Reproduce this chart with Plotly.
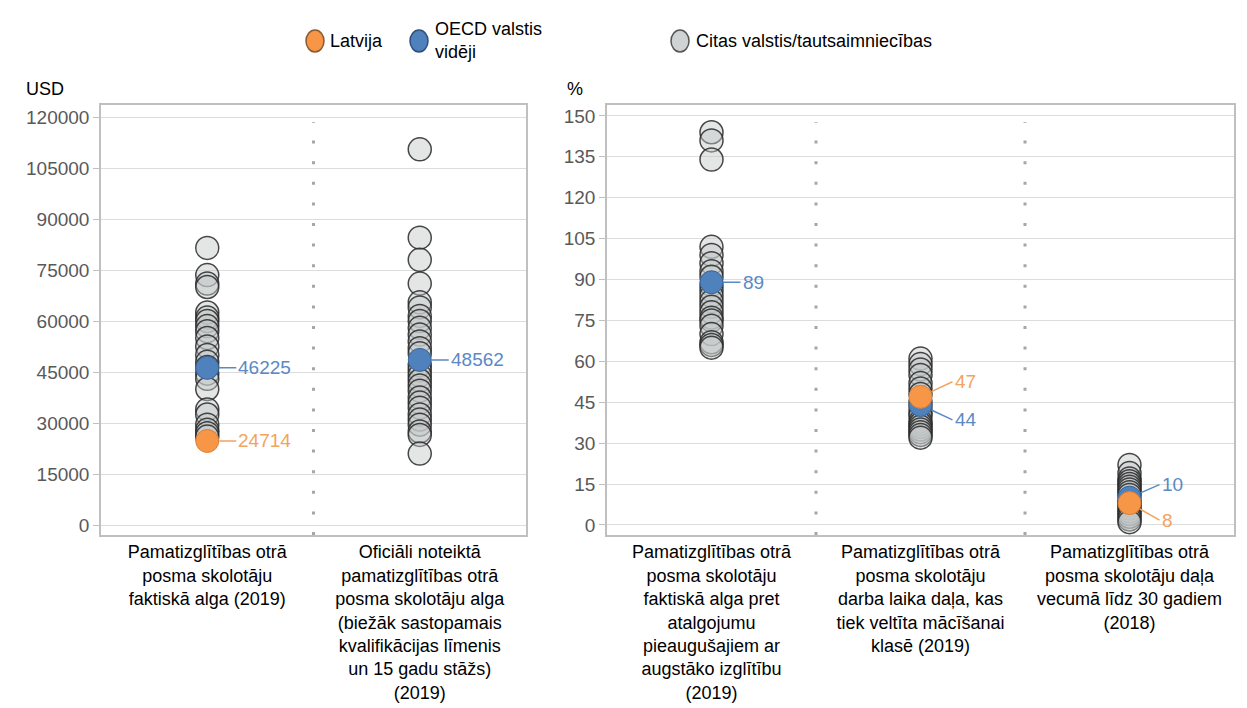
import plotly.graph_objects as go

# ---------------- data ----------------
left_categories = [
    "Pamatizglītības otrā<br>posma skolotāju<br>faktiskā alga (2019)",
    "Oficiāli noteiktā<br>pamatizglītības otrā<br>posma skolotāju alga<br>(biežāk sastopamais<br>kvalifikācijas līmenis<br>un 15 gadu stāžs)<br>(2019)",
]
right_categories = [
    "Pamatizglītības otrā<br>posma skolotāju<br>faktiskā alga pret<br>atalgojumu<br>pieaugušajiem ar<br>augstāko izglītību<br>(2019)",
    "Pamatizglītības otrā<br>posma skolotāju<br>darba laika daļa, kas<br>tiek veltīta mācīšanai<br>klasē (2019)",
    "Pamatizglītības otrā<br>posma skolotāju daļa<br>vecumā līdz 30 gadiem<br>(2018)",
]

others_left_1 = [81500, 73500, 71000, 70000, 62500, 61000, 60000, 58500, 57000, 55000,
                 52500, 50000, 48000, 46500, 44500, 43000, 40000, 34000, 32500, 29500,
                 28000, 27000, 26000]
others_left_2 = [110500, 84500, 78000, 71000, 65500, 64000, 61500, 60000, 58000, 56000,
                 54000, 52000, 50500, 47000, 45500, 44000, 42500, 41000, 39500, 37500,
                 36000, 34500, 32500, 31000, 29500, 27500, 26500, 21000]
others_right_1 = [144, 141, 134, 102, 99, 96, 93, 91, 88, 86, 84, 82, 80, 78, 76, 75,
                  73, 70, 67, 66, 65]
others_right_2 = [61, 59, 57, 55, 52, 50, 48, 45, 43, 41, 40, 38, 37, 36, 35, 34, 33, 32]
others_right_3 = [22, 19, 17, 16, 15, 14, 13, 12, 11, 9, 8, 7, 6, 5, 4, 3, 2, 1]

oecd_left = [46225, 48562]
oecd_right = [89, 44, 10]
latvia_left = [24714, None]
latvia_right = [None, 47, 8]

left_ticks = [0, 15000, 30000, 45000, 60000, 75000, 90000, 105000, 120000]
right_ticks = [0, 15, 30, 45, 60, 75, 90, 105, 120, 135, 150]

legend_names = ["Latvija", "OECD valstis<br>vidēji", "Citas valstis/tautsaimniecības"]

# ---------------- style ----------------
W, H = 1247, 708
FONT = "Arial, Liberation Sans, sans-serif"
ORANGE = "#f79646"
BLUE = "#4f81bd"
ORANGE_TXT = "#f2a360"
BLUE_TXT = "#5b89c4"
GRAY_FILL = "rgba(195,200,200,0.45)"
GRAY_LINE = "rgba(40,40,40,0.85)"
MS = 23

fig = go.Figure()

def add_others(cat, vals, xa, ya):
    fig.add_trace(go.Scatter(
        x=[cat] * len(vals), y=vals, xaxis=xa, yaxis=ya, mode="markers",
        name="Citas valstis/tautsaimniecības", showlegend=False,
        marker=dict(size=MS, color=GRAY_FILL, line=dict(color=GRAY_LINE, width=1.5)),
        hoverinfo="y"))

add_others(left_categories[0], others_left_1, "x", "y")
add_others(left_categories[1], others_left_2, "x", "y")
add_others(right_categories[0], others_right_1, "x2", "y2")
add_others(right_categories[1], others_right_2, "x2", "y2")
add_others(right_categories[2], others_right_3, "x2", "y2")

fig.add_trace(go.Scatter(x=left_categories, y=oecd_left, xaxis="x", yaxis="y", mode="markers",
                         showlegend=False,
                         marker=dict(size=MS, color=BLUE, line=dict(color="#3a6294", width=1))))
fig.add_trace(go.Scatter(x=right_categories, y=oecd_right, xaxis="x2", yaxis="y2", mode="markers",
                         showlegend=False,
                         marker=dict(size=MS, color=BLUE, line=dict(color="#3a6294", width=1))))
fig.add_trace(go.Scatter(x=left_categories, y=latvia_left, xaxis="x", yaxis="y", mode="markers",
                         showlegend=False,
                         marker=dict(size=MS, color=ORANGE, line=dict(color="#d9803a", width=1))))
fig.add_trace(go.Scatter(x=right_categories, y=latvia_right, xaxis="x2", yaxis="y2", mode="markers",
                         showlegend=False,
                         marker=dict(size=MS, color=ORANGE, line=dict(color="#d9803a", width=1))))

# ---------------- value labels ----------------
annotations = []

def label(xref, yref, cat, val, color, ax, ay):
    annotations.append(dict(
        x=cat, y=val, xref=xref, yref=yref, text=str(val),
        showarrow=True, arrowhead=0, arrowwidth=1.5, arrowcolor=color,
        ax=ax, ay=ay, standoff=12, xanchor="left", yanchor="middle",
        font=dict(family=FONT, size=19, color=color)))

label("x", "y", left_categories[0], oecd_left[0], BLUE_TXT, 29, 0)
label("x", "y", left_categories[0], latvia_left[0], ORANGE_TXT, 29, 0)
label("x", "y", left_categories[1], oecd_left[1], BLUE_TXT, 29, 0)
label("x2", "y2", right_categories[0], oecd_right[0], BLUE_TXT, 29, 0)
label("x2", "y2", right_categories[1], latvia_right[1], ORANGE_TXT, 32, -15)
label("x2", "y2", right_categories[1], oecd_right[1], BLUE_TXT, 32, 15)
label("x2", "y2", right_categories[2], oecd_right[2], BLUE_TXT, 30, -13)
label("x2", "y2", right_categories[2], latvia_right[2], ORANGE_TXT, 30, 17)

# axis unit titles
annotations.append(dict(x=16 / W, y=1 - 81 / H, xref="paper", yref="paper", text="USD",
                        showarrow=False, xanchor="left", yanchor="middle",
                        font=dict(family=FONT, size=18, color="#000000")))
annotations.append(dict(x=557 / W, y=1 - 81 / H, xref="paper", yref="paper", text="%",
                        showarrow=False, xanchor="left", yanchor="middle",
                        font=dict(family=FONT, size=18, color="#000000")))

# ---------------- manual legend ----------------
shapes = []
leg_items = [(307, ORANGE, "#8a5a30", 320), (411, BLUE, "#2f4f7f", 425), (672, "#cfd3d3", "#555555", 686)]
for (cx, fill, line, tx), name in zip(leg_items, legend_names):
    shapes.append(dict(type="circle", xref="paper", yref="paper",
                       x0=(cx - 9) / W, x1=(cx + 9) / W, y0=1 - 44 / H, y1=1 - 22 / H,
                       fillcolor=fill, line=dict(color=line, width=1.5)))
    annotations.append(dict(x=tx / W, y=1 - 33 / H, xref="paper", yref="paper", text=name,
                            showarrow=False, xanchor="left", yanchor="middle", align="left",
                            font=dict(family=FONT, size=18, color="#000000")))

# dotted separators between categories
SEP = dict(color="#a6a6a6", width=3, dash="3px,17.6px")
for xref, yref, pos in [("x", "y domain", 0.5), ("x2", "y2 domain", 0.5), ("x2", "y2 domain", 1.5)]:
    shapes.append(dict(type="line", xref=xref, yref=yref, x0=pos, x1=pos, y0=0.0, y1=0.96,
                       line=SEP, layer="below"))

# ---------------- axes ----------------
ydom = [1 - 527 / H, 1 - 97 / H]
common_x = dict(type="category", showgrid=False, showline=True, mirror=True,
                linecolor="#c0c0c0", linewidth=1.5, ticks="", zeroline=False,
                tickfont=dict(family=FONT, size=18, color="#000000"))
common_y = dict(showgrid=True, gridcolor="#dcdcdc", gridwidth=1.3, showline=True, mirror=True,
                linecolor="#c0c0c0", linewidth=1.5, ticks="outside", ticklen=6,
                tickcolor="#c0c0c0", zeroline=False, domain=ydom,
                tickfont=dict(family=FONT, size=19, color="#595959"))

fig.update_layout(
    width=W, height=H,
    margin=dict(l=0, r=0, t=0, b=0),
    paper_bgcolor="white", plot_bgcolor="white",
    showlegend=False,
    xaxis=dict(common_x, domain=[93 / W, 518 / W], anchor="y",
               categoryorder="array", categoryarray=left_categories, range=[-0.5, 1.5]),
    yaxis=dict(common_y, anchor="x", range=[-2940, 123530], tickvals=left_ticks,
               ticktext=[str(v) for v in left_ticks]),
    xaxis2=dict(common_x, domain=[599 / W, 1226 / W], anchor="y2",
                categoryorder="array", categoryarray=right_categories, range=[-0.5, 2.5]),
    yaxis2=dict(common_y, anchor="x2", range=[-3.7, 154], tickvals=right_ticks,
                ticktext=[str(v) for v in right_ticks]),
    annotations=annotations,
    shapes=shapes,
    font=dict(family=FONT),
)

fig.write_html("out.html")
